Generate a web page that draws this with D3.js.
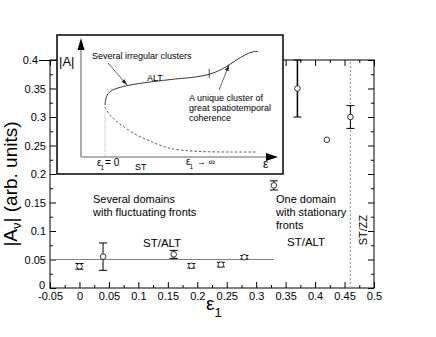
<!DOCTYPE html>
<html>
<head>
<meta charset="utf-8">
<script src="https://cdn.jsdelivr.net/npm/d3@7"></script>
<style>
  body { margin: 0; background: #fff; }
  svg { font-family: "Liberation Sans", Arial, Helvetica, sans-serif; }
</style>
</head>
<body>
<script>
// measured points
const eps1 = [0, 0.04, 0.16, 0.19, 0.24, 0.28, 0.33, 0.37, 0.42, 0.46];
const ampl = [0.038, 0.055, 0.059, 0.039, 0.041, 0.054, 0.18, 0.35, 0.26, 0.30];
const errs = [0.005, 0.024, 0.007, 0.004, 0.004, 0.003, 0.008, 0.05, 0, 0.02];

const xTicks = [-0.05, 0, 0.05, 0.1, 0.15, 0.2, 0.25, 0.3, 0.35, 0.4, 0.45, 0.5];
const yTicks = [0, 0.05, 0.1, 0.15, 0.2, 0.25, 0.3, 0.35, 0.4];
const baseLevel = 0.05, baseEnd = 0.33;   // ST/ALT reference line
const zzLine = 0.46;                       // ST/ZZ boundary

// inset sketch (schematic units 0..1)
const altX = [0.122, 0.13, 0.15, 0.188, 0.249, 0.35, 0.477, 0.579, 0.655, 0.716, 0.782, 0.832, 0.868, 0.898];
const altY = [0.437, 0.51, 0.553, 0.58, 0.605, 0.63, 0.655, 0.672, 0.697, 0.739, 0.807, 0.857, 0.882, 0.887];
const stX = [0.122, 0.147, 0.198, 0.274, 0.35, 0.426, 0.503, 0.604, 0.756, 0.898];
const stY = [0.42, 0.353, 0.277, 0.193, 0.134, 0.084, 0.059, 0.046, 0.042, 0.042];

const width = 436, height = 337;
const svg = d3.select("body").append("svg").attr("width", width).attr("height", height);

const x = d3.scaleLinear().domain([-0.05, 0.5]).range([50, 374]);
const y = d3.scaleLinear().domain([0, 0.4]).range([288, 60]);

const minorX = d3.range(-0.025, 0.5, 0.05);
const minorY = d3.range(0.025, 0.4, 0.05);
const fmt = d => String(+d.toFixed(2));

function styleAxis(g) {
  g.select(".domain").remove();
  g.selectAll("line").attr("stroke", "#000");
  g.selectAll("text").attr("font-size", 11).attr("fill", "#000").attr("font-family", null);
}

// axes, ticks pointing inward
svg.append("g").attr("transform", "translate(0,288)")
  .call(d3.axisBottom(x).tickValues(xTicks).tickFormat(fmt).tickSize(-6).tickPadding(4)).call(styleAxis);
svg.append("g").attr("transform", "translate(0,288)")
  .call(d3.axisBottom(x).tickValues(minorX).tickFormat("").tickSize(-3)).call(styleAxis);
svg.append("g").attr("transform", "translate(0,60)")
  .call(d3.axisTop(x).tickValues(xTicks).tickFormat("").tickSize(-6)).call(styleAxis);
svg.append("g").attr("transform", "translate(0,60)")
  .call(d3.axisTop(x).tickValues(minorX).tickFormat("").tickSize(-3)).call(styleAxis);

const yAx = svg.append("g").attr("transform", "translate(50,0)")
  .call(d3.axisLeft(y).tickValues(yTicks).tickFormat(fmt).tickSize(-6).tickPadding(4)).call(styleAxis);
svg.append("g").attr("transform", "translate(50,0)")
  .call(d3.axisLeft(y).tickValues(minorY).tickFormat("").tickSize(-3)).call(styleAxis);
svg.append("g").attr("transform", "translate(374,0)")
  .call(d3.axisRight(y).tickValues(yTicks).tickFormat("").tickSize(-6)).call(styleAxis);
svg.append("g").attr("transform", "translate(374,0)")
  .call(d3.axisRight(y).tickValues(minorY).tickFormat("").tickSize(-3)).call(styleAxis);

// top label sits off its tick with a leader; zero label lifted clear of x labels
yAx.selectAll(".tick").filter(d => d === 0.4).each(function() {
  d3.select(this).append("line").attr("x1", -11).attr("x2", 0).attr("stroke", "#000");
  d3.select(this).select("text").attr("x", -12);
});
yAx.selectAll(".tick").filter(d => d === 0).select("text").attr("dy", "0.0em").attr("x", -5);

svg.append("rect").attr("x", 50).attr("y", 60).attr("width", 324).attr("height", 228)
  .attr("fill", "none").attr("stroke", "#000").attr("stroke-width", 1);

// reference lines
svg.append("line").attr("x1", x(-0.05)).attr("x2", x(baseEnd)).attr("y1", y(baseLevel)).attr("y2", y(baseLevel))
  .attr("stroke", "#808080").attr("stroke-width", 1);
svg.append("line").attr("x1", x(zzLine)).attr("x2", x(zzLine)).attr("y1", y(0)).attr("y2", y(0.4))
  .attr("stroke", "#a0a0a0").attr("stroke-width", 1.2).attr("stroke-dasharray", "2,2");

// data with error bars
const pts = eps1.map((e, i) => ({e: e, a: ampl[i], s: errs[i]}));
const eb = svg.append("g").attr("stroke", "#000").attr("stroke-width", 1);
pts.filter(d => d.s > 0).forEach(d => {
  const top = Math.min(d.a + d.s, 0.4);
  eb.append("line").attr("x1", x(d.e)).attr("x2", x(d.e)).attr("y1", y(d.a - d.s)).attr("y2", y(top))
    .attr("stroke-width", d.s > 0.03 ? 1.5 : 1);
  eb.append("line").attr("x1", x(d.e) - 4).attr("x2", x(d.e) + 4).attr("y1", y(d.a - d.s)).attr("y2", y(d.a - d.s));
  if (d.a + d.s < 0.4)
    eb.append("line").attr("x1", x(d.e) - 4).attr("x2", x(d.e) + 4).attr("y1", y(top)).attr("y2", y(top));
});
svg.append("g").selectAll("circle").data(pts).join("circle")
  .attr("cx", d => x(d.e)).attr("cy", d => y(d.a)).attr("r", 2.8)
  .attr("fill", "#fff").attr("stroke", "#000").attr("stroke-width", 0.8);

// annotations
const ann = svg.append("g").attr("font-size", 11).attr("fill", "#000");
ann.append("text").attr("x", 93).attr("y", 203).text("Several domains");
ann.append("text").attr("x", 93).attr("y", 216).text("with fluctuating fronts");
ann.append("text").attr("x", 143).attr("y", 247).attr("font-size", 11.5).text("ST/ALT");
ann.append("text").attr("x", 276).attr("y", 203).text("One domain");
ann.append("text").attr("x", 276).attr("y", 216).text("with stationary");
ann.append("text").attr("x", 276).attr("y", 229).text("fronts");
ann.append("text").attr("x", 287).attr("y", 246).attr("font-size", 11.5).text("ST/ALT");
ann.append("text").attr("transform", "translate(367,230) rotate(-90)").attr("text-anchor", "middle").text("ST/ZZ");

// axis titles
const yl = svg.append("text").attr("transform", "translate(17,184) rotate(-90)")
  .attr("text-anchor", "middle").attr("font-size", 19);
yl.append("tspan").text("|A");
yl.append("tspan").attr("font-size", 13).attr("dy", 4).text("ν");
yl.append("tspan").attr("dy", -4).text("| (arb. units)");
const xl = svg.append("text").attr("x", 206).attr("y", 310).attr("font-size", 19);
xl.append("tspan").text("ε");
xl.append("tspan").attr("font-size", 13).attr("dy", 7).text("1");

// ---- inset ----
const ins = svg.append("g").attr("transform", "translate(57,35)");
ins.append("rect").attr("width", 226).attr("height", 139).attr("fill", "#fff")
  .attr("stroke", "#000").attr("stroke-width", 1.5);
const ix = d3.scaleLinear().domain([0, 1]).range([24, 221]);
const iy = d3.scaleLinear().domain([0, 1]).range([122, 3]);

ins.append("line").attr("x1", ix(0)).attr("x2", ix(0)).attr("y1", iy(0)).attr("y2", iy(0.9))
  .attr("stroke", "#999").attr("stroke-width", 1.6);
ins.append("line").attr("x1", ix(0)).attr("x2", ix(0.95)).attr("y1", iy(0)).attr("y2", iy(0))
  .attr("stroke", "#999").attr("stroke-width", 1.6);
ins.append("path").attr("d", `M${ix(0)},${iy(1)} l-3.5,12 l7,0 z`).attr("fill", "#000");
ins.append("path").attr("d", `M${ix(1)},${iy(0)} l-12,-4 l0,8 z`).attr("fill", "#000");

const line = d3.line().x(d => ix(d[0])).y(d => iy(d[1])).curve(d3.curveCatmullRom);
ins.append("path").attr("d", line(d3.zip(altX, altY))).attr("fill", "none")
  .attr("stroke", "#222").attr("stroke-width", 0.9);
ins.append("path").attr("d", line(d3.zip(stX, stY))).attr("fill", "none")
  .attr("stroke", "#333").attr("stroke-width", 0.8).attr("stroke-dasharray", "2.5,2");
ins.append("line").attr("x1", ix(altX[0])).attr("x2", ix(altX[0])).attr("y1", iy(stY[0])).attr("y2", iy(0))
  .attr("stroke", "#888").attr("stroke-width", 0.7).attr("stroke-dasharray", "1,1.2");
// mark on ALT branch
ins.append("line").attr("x1", ix(0.651)).attr("x2", ix(0.651)).attr("y1", iy(0.74)).attr("y2", iy(0.665))
  .attr("stroke", "#222").attr("stroke-width", 0.8);

function pointer(x1, y1, x2, y2) {
  const a = Math.atan2(y2 - y1, x2 - x1) * 180 / Math.PI;
  ins.append("line").attr("x1", x1).attr("y1", y1).attr("x2", x2).attr("y2", y2)
    .attr("stroke", "#222").attr("stroke-width", 0.7);
  ins.append("path").attr("d", "M0,0 l-6,-2 l0,4 z").attr("fill", "#222")
    .attr("transform", `translate(${x2},${y2}) rotate(${a})`);
}
pointer(51, 28, 70, 50);
pointer(162, 55, 172, 30);

const it = ins.append("g").attr("font-size", 9).attr("fill", "#000");
it.append("text").attr("x", 2).attr("y", 31).attr("font-size", 13).text("|A|");
it.append("text").attr("x", 35).attr("y", 23.5).text("Several irregular clusters");
it.append("text").attr("x", 90).attr("y", 46).text("ALT");
it.append("text").attr("x", 132).attr("y", 66).text("A unique cluster of");
it.append("text").attr("x", 132).attr("y", 76).text("great spatiotemporal");
it.append("text").attr("x", 132).attr("y", 86).text("coherence");
const e0 = it.append("text").attr("x", 40).attr("y", 131).attr("font-size", 10);
e0.append("tspan").text("ε");
e0.append("tspan").attr("font-size", 6.5).attr("dx", -1).attr("dy", 4).text("1");
e0.append("tspan").attr("dy", -4).attr("dx", 1).text("= 0");
it.append("text").attr("x", 78).attr("y", 135).text("ST");
const e1 = it.append("text").attr("x", 129).attr("y", 130).attr("font-size", 10);
e1.append("tspan").text("ε");
e1.append("tspan").attr("font-size", 6.5).attr("dx", -1).attr("dy", 4).text("1");
e1.append("tspan").attr("dy", -4).attr("dx", 4).attr("font-size", 9).text("→ ∞");
it.append("text").attr("x", 206).attr("y", 133).attr("font-size", 12).text("ε");
</script>
</body>
</html>
